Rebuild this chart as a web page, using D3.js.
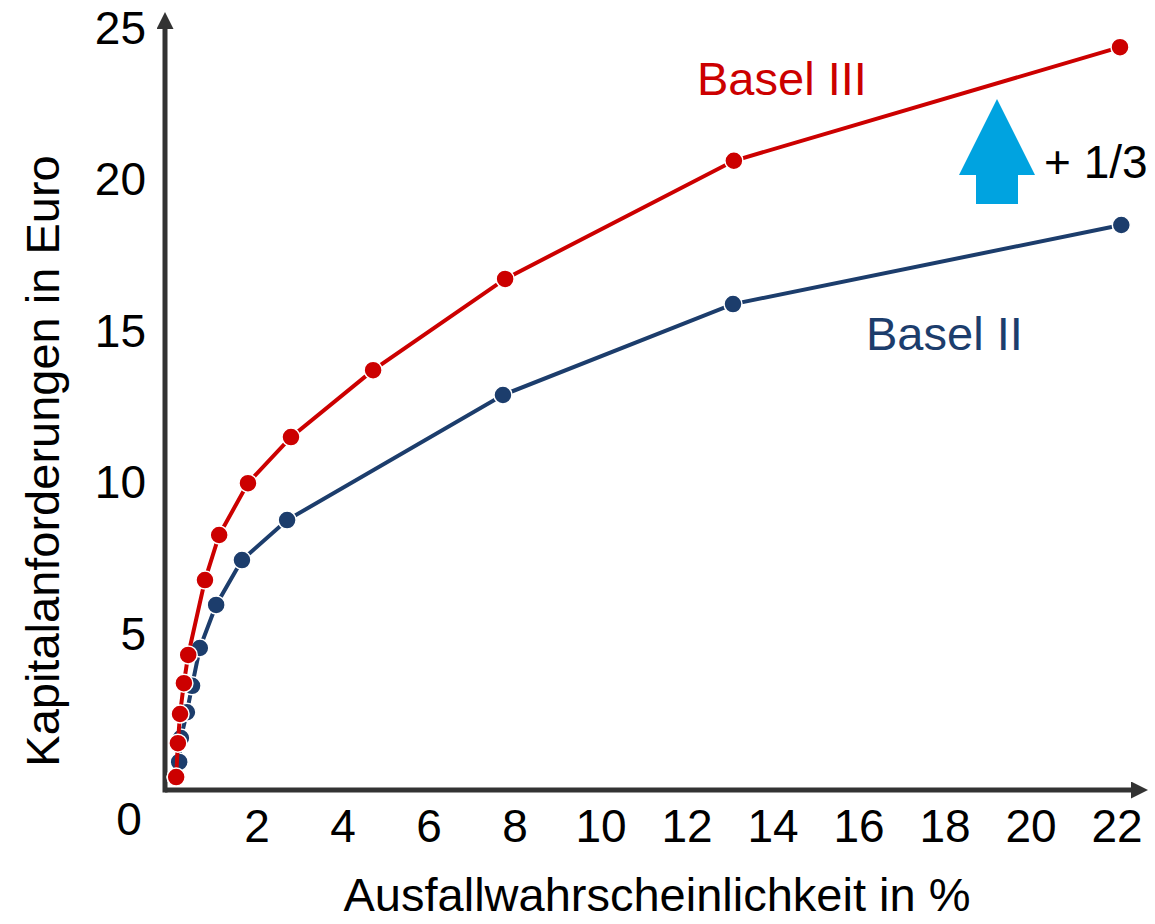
<!DOCTYPE html>
<html>
<head>
<meta charset="utf-8">
<script src="https://cdn.jsdelivr.net/npm/d3@7"></script>
<style>
  body { margin: 0; background: #fff; }
  text { font-family: "Liberation Sans", Arial, sans-serif; }
</style>
</head>
<body>
<div id="chart"></div>
<script>
// Werte
const xTicks = [2, 4, 6, 8, 10, 12, 14, 16, 18, 20, 22];
const yTicks = [5, 10, 15, 20, 25];

const basel3X = [0.12, 0.16, 0.21, 0.3, 0.4, 0.79, 1.12, 1.79, 2.79, 4.7, 7.77, 13.09, 22.07];
const basel3Y = [0.46, 1.58, 2.54, 3.56, 4.49, 6.96, 8.45, 10.16, 11.68, 13.89, 16.9, 20.8, 24.55];

const basel2X = [0.12, 0.19, 0.23, 0.37, 0.49, 0.67, 1.05, 1.65, 2.7, 7.72, 13.07, 22.1];
const basel2Y = [0.46, 0.96, 1.75, 2.6, 3.47, 4.72, 6.14, 7.62, 8.94, 13.07, 16.07, 18.68];

const width = 1155, height = 924;
const red = "#cc0000", blue = "#1c3d6c", axisCol = "#333";

const svg = d3.select("#chart").append("svg")
    .attr("width", width)
    .attr("height", height);

const x = d3.scaleLinear().domain([0, 22]).range([171, 1117]);
const y = d3.scaleLinear().domain([0, 25]).range([791, 33.5]);

// Achsen mit Pfeilen
svg.append("defs").append("marker")
    .attr("id", "arrow")
    .attr("viewBox", "0 0 10 10")
    .attr("refX", 0).attr("refY", 5)
    .attr("markerWidth", 3.4).attr("markerHeight", 3.4)
    .attr("markerUnits", "strokeWidth")
    .attr("orient", "auto")
    .append("path")
    .attr("d", "M0,0 L10,5 L0,10 Z")
    .attr("fill", axisCol);

svg.append("line")
    .attr("x1", 165).attr("y1", 790)
    .attr("x2", 1131).attr("y2", 790)
    .attr("stroke", axisCol).attr("stroke-width", 5)
    .attr("marker-end", "url(#arrow)");

svg.append("line")
    .attr("x1", 165).attr("y1", 792.5)
    .attr("x2", 165).attr("y2", 29)
    .attr("stroke", axisCol).attr("stroke-width", 5)
    .attr("marker-end", "url(#arrow)");

// Beschriftungen der Achsen
svg.selectAll(".xt").data(xTicks).enter().append("text")
    .attr("x", d => x(d))
    .attr("y", 842)
    .attr("text-anchor", "middle")
    .attr("font-size", 46)
    .text(d => d);

svg.selectAll(".yt").data(yTicks).enter().append("text")
    .attr("x", 146)
    .attr("y", d => y(d) + 10)
    .attr("text-anchor", "end")
    .attr("font-size", 46)
    .text(d => d);

svg.append("text")
    .attr("x", 129).attr("y", 835)
    .attr("text-anchor", "middle")
    .attr("font-size", 46)
    .text("0");

svg.append("text")
    .attr("x", 657).attr("y", 911)
    .attr("text-anchor", "middle")
    .attr("font-size", 47)
    .text("Ausfallwahrscheinlichkeit in %");

svg.append("text")
    .attr("transform", "translate(59,461) rotate(-90)")
    .attr("text-anchor", "middle")
    .attr("font-size", 47)
    .text("Kapitalanforderungen in Euro");

// Linien und Punkte
const line = d3.line().x(d => x(d[0])).y(d => y(d[1]));

function drawSeries(xs, ys, color) {
    const pts = xs.map((v, i) => [v, ys[i]]);
    svg.append("path")
        .datum(pts)
        .attr("d", line)
        .attr("fill", "none")
        .attr("stroke", color)
        .attr("stroke-width", 4);
    svg.append("g").selectAll("circle")
        .data(pts)
        .enter()
        .append("circle")
        .attr("cx", d => x(d[0]))
        .attr("cy", d => y(d[1]))
        .attr("r", 9)
        .attr("fill", color)
        .attr("stroke", "#fff")
        .attr("stroke-width", 1.5);
}

drawSeries(basel2X, basel2Y, blue);
drawSeries(basel3X, basel3Y, red);

// Legendentexte
svg.append("text")
    .attr("x", 697).attr("y", 95)
    .attr("font-size", 47)
    .attr("fill", red)
    .text("Basel III");

svg.append("text")
    .attr("x", 866).attr("y", 350)
    .attr("font-size", 47)
    .attr("fill", blue)
    .text("Basel II");

// Pfeil +1/3
svg.append("path")
    .attr("d", "M997,99 L1035,175 L1018,175 L1018,204 L976,204 L976,175 L959,175 Z")
    .attr("fill", "#00a3e0");

svg.append("text")
    .attr("x", 1044).attr("y", 178)
    .attr("font-size", 46)
    .text("+ 1/3");
</script>
</body>
</html>
